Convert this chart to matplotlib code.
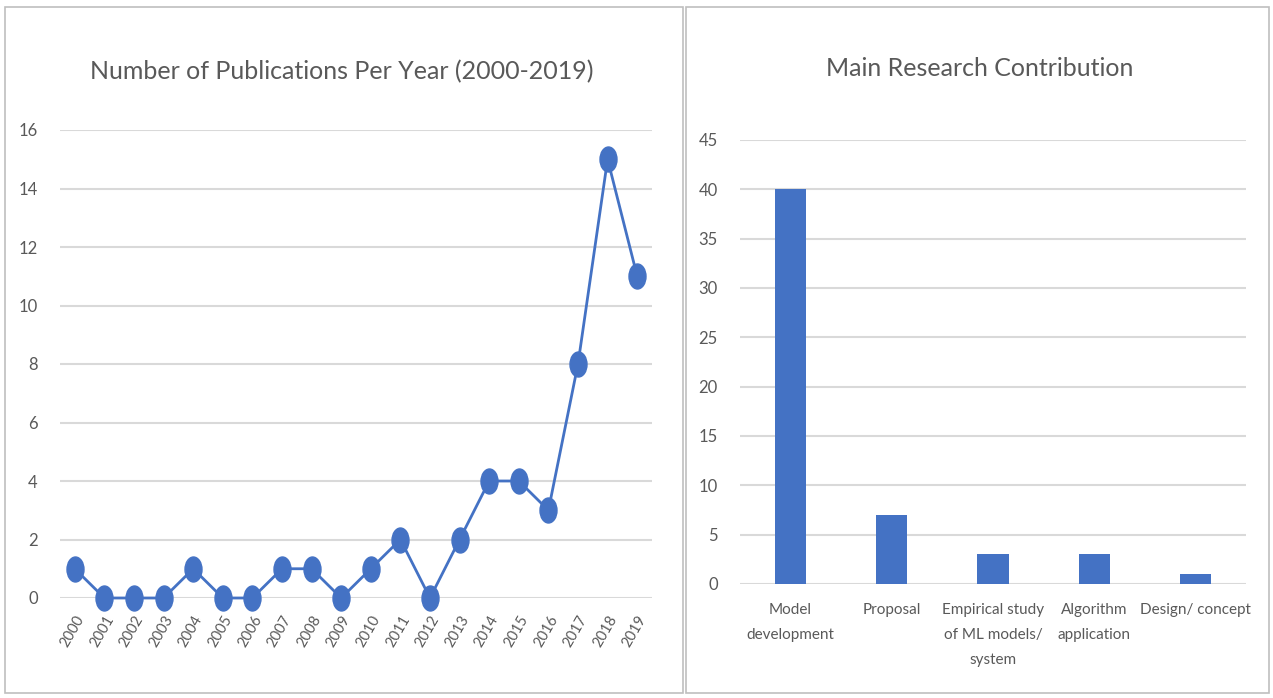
import matplotlib.pyplot as plt
from matplotlib.patches import Rectangle
from matplotlib.path import Path
from matplotlib.transforms import Affine2D

plt.rcParams['font.family'] = ['Lato', 'DejaVu Sans']

# Data
years = [str(y) for y in range(2000, 2020)]
publications = [1, 0, 0, 0, 1, 0, 0, 1, 1, 0, 1, 2, 0, 2, 4, 4, 3, 8, 15, 11]

contributions = ['Model\ndevelopment', 'Proposal', 'Empirical study\nof ML models/\nsystem',
                 'Algorithm\napplication', 'Design/ concept']
contribution_counts = [40, 7, 3, 3, 1]

BLUE = '#4472C4'
GRID = '#D9D9D9'
TEXT = '#595959'

W, H = 1273, 698
fig = plt.figure(figsize=(W / 100, H / 100), dpi=100)


def px_axes(x0, y0, x1, y1):
    # pixel box (top-left origin) -> figure fraction
    return fig.add_axes([x0 / W, (H - y1) / H, (x1 - x0) / W, (y1 - y0) / H])


# panel borders
for x0, x1 in ((5, 683), (686, 1269)):
    fig.patches.append(Rectangle((x0 / W, (H - 693) / H), (x1 - x0) / W, (693 - 7) / H,
                                 transform=fig.transFigure, fill=False,
                                 edgecolor='#BFBFBF', linewidth=1.2))


def style(ax):
    for s in ax.spines.values():
        s.set_visible(False)
    ax.yaxis.grid(True, color=GRID, linewidth=1.5)
    ax.set_axisbelow(True)
    ax.tick_params(length=0, colors=TEXT, labelsize=12)


# tall oval marker (the source picture is stretched vertically)
oval = Path.unit_circle().transformed(Affine2D().scale(0.68, 1.0))

# left: line chart
ax1 = px_axes(60, 130, 652, 598)
style(ax1)
ax1.plot(range(len(years)), publications, color=BLUE, linewidth=2.0,
         marker=oval, markersize=18, zorder=3, clip_on=False)
ax1.set_xlim(-0.5, len(years) - 0.5)
ax1.set_ylim(0, 16)
ax1.set_yticks(range(0, 17, 2))
ax1.set_xticks(range(len(years)))
ax1.set_xticklabels(years, rotation=60, ha='right', rotation_mode='anchor', fontsize=10.5)
ax1.tick_params(axis='y', pad=16)
ax1.tick_params(axis='x', pad=11)
fig.text(342 / W, 1 - 72 / H, 'Number of Publications Per Year (2000-2019)',
         ha='center', va='center', fontsize=18, color=TEXT)

# right: bar chart
ax2 = px_axes(740, 140, 1246, 584)
style(ax2)
ax2.bar(range(len(contributions)), contribution_counts, width=0.31, color=BLUE, zorder=3)
ax2.set_xlim(-0.5, len(contributions) - 0.5)
ax2.set_ylim(0, 45)
ax2.set_yticks(range(0, 46, 5))
ax2.set_xticks(range(len(contributions)))
ax2.set_xticklabels(contributions, fontsize=11, linespacing=2.0)
ax2.tick_params(axis='y', pad=16)
ax2.tick_params(axis='x', pad=14)
fig.text(980 / W, 1 - 68 / H, 'Main Research Contribution',
         ha='center', va='center', fontsize=18, color=TEXT)

fig.savefig('out.png', dpi=100)
